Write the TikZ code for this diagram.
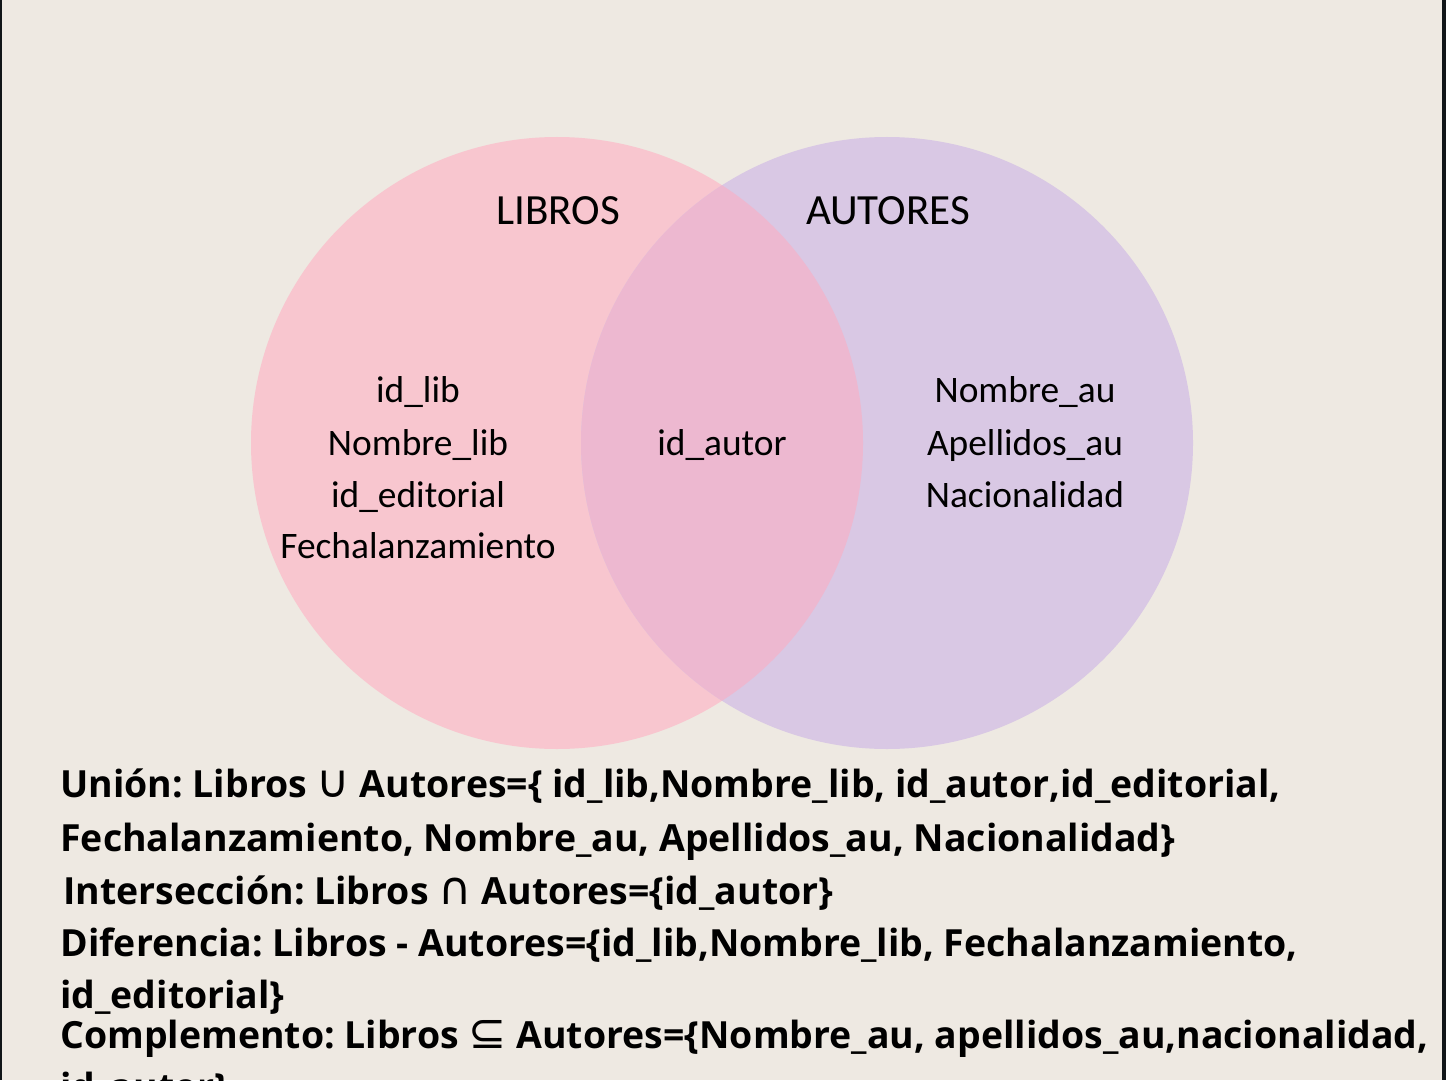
\documentclass[tikz,border=0pt]{standalone}
\usepackage{fontspec}
\setmainfont{Open Sans}
\newfontfamily\manoFont{Carlito}
\newfontfamily\simboloFont{DejaVu Sans}
\usetikzlibrary{positioning}
\definecolor{fondo}{HTML}{EEE9E2}
\definecolor{borde}{HTML}{111518}
\definecolor{rosa}{HTML}{F8C6CF}
\definecolor{lila}{HTML}{D9C8E4}
\definecolor{mezcla}{HTML}{EDB8D0}
\newcommand{\simb}[1]{{\simboloFont\mdseries\fontsize{26}{26}\selectfont #1}}
\frenchspacing

\begin{document}
\begin{tikzpicture}[x=0.02cm,y=0.02cm,
  titulo/.style={anchor=base, inner sep=0pt, font=\manoFont\fontsize{24.5}{28}\selectfont},
  dato/.style={anchor=base, inner sep=0pt, font=\manoFont\fontsize{21.3}{26}\selectfont},
  linea/.style={anchor=base west, inner sep=0pt, font=\bfseries\fontsize{21.3}{25}\selectfont}]
  % background
  \fill[fondo] (0,0) rectangle (1446,1080);
  \useasboundingbox (0,0) rectangle (1446,1080);
  \fill[borde] (0,0) rectangle (2,1080);
  \fill[borde] (1442,0) rectangle (1446,1080);

  % sets
  \fill[rosa] (557,637) circle (306);
  \fill[lila] (887,637) circle (306);
  \begin{scope}
    \clip (557,637) circle (306);
    \fill[mezcla] (887,637) circle (306);
  \end{scope}

  % set names
  \node[titulo] (libros) at (558,855) {LIBROS};
  \node[titulo] (autores) at (888,855) {AUTORES};

  % attributes
  \node[dato] (idlib) at (418,678) {id\_lib};
  \node[dato] (nomlib) at (418,625) {Nombre\_lib};
  \node[dato] (idedit) at (418,573) {id\_editorial};
  \node[dato] (fecha) at (418,522) {Fechalanzamiento};
  \node[dato] (idautor) at (722,625) {id\_autor};
  \node[dato] (nomau) at (1025,678) {Nombre\_au};
  \node[dato] (apeau) at (1025,625) {Apellidos\_au};
  \node[dato] (nacio) at (1025,573) {Nacionalidad};

  % operations
  \node[linea] (union1) at (60,283) {Unión: Libros \simb{∪} Autores=\{ id\_lib,Nombre\_lib, id\_autor,id\_editorial,};
  \node[linea] (union2) at (60,229) {Fechalanzamiento, Nombre\_au, Apellidos\_au, Nacionalidad\}};
  \node[linea] (inter) at (63,176) {Intersección: Libros \simb{∩} Autores=\{id\_autor\}};
  \node[linea] (dif1) at (60,124) {Diferencia: Libros - Autores=\{id\_lib,Nombre\_lib, Fechalanzamiento,};
  \node[linea] (dif2) at (60,72) {id\_editorial\}};
  \node[linea] (comp1) at (60,32) {Complemento: Libros \simb{⊆} Autores=\{Nombre\_au, apellidos\_au,nacionalidad,};
  \node[linea] (comp2) at (60,-20) {id\_autor\}};
\end{tikzpicture}
\end{document}
